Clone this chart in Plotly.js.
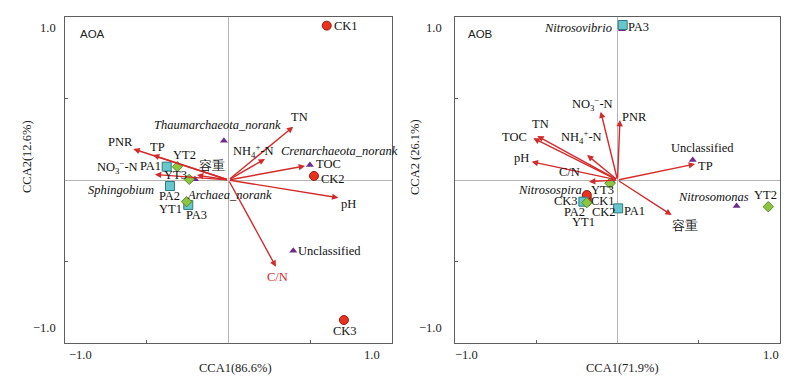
<!DOCTYPE html>
<html>
<head>
<meta charset="utf-8">
<script src="https://cdn.plot.ly/plotly-3.0.1.min.js"></script>
<style>html,body{margin:0;padding:0;background:#fff;}#chart{width:800px;height:386px;}</style>
</head>
<body>
<div id="chart"></div>
<script>
// ---------------- DATA: AOA panel ----------------
const aoaSampleNames = ['CK1','CK2','CK3','PA1','PA2','PA3','YT1','YT2','YT3'];
const aoaSampleX = [0.601, 0.523, 0.706, -0.378, -0.358, -0.246, -0.256, -0.313, -0.240];
const aoaSampleY = [0.947, 0.025, -0.859, 0.082, -0.037, -0.153, -0.133, 0.082, 0.004];
const aoaSpeciesNames = ['Thaumarchaeota_norank','Crenarchaeota_norank','Archaea_norank','Sphingobium','Unclassified'];
const aoaSpeciesX = [-0.028, 0.498, -0.205, -0.360, 0.396];
const aoaSpeciesY = [0.241, 0.092, 0.004, -0.035, -0.434];
const aoaEnvNames = ['PNR','TP','NO3-N','容重','NH4-N','TN','TOC','pH','C/N'];
const aoaEnvX = [-0.582, -0.462, -0.450, -0.193, 0.223, 0.396, 0.468, 0.672, 0.290];
const aoaEnvY = [0.190, 0.153, 0.034, 0.030, 0.129, 0.327, 0.086, -0.109, -0.532];

// ---------------- DATA: AOB panel ----------------
const aobSampleNames = ['CK1','CK2','CK3','PA1','PA2','PA3','YT1','YT2','YT3'];
const aobSampleX = [-0.189, -0.189, -0.189, 0.004, -0.210, 0.032, -0.189, 0.928, -0.046];
const aobSampleY = [-0.112, -0.133, -0.092, -0.174, -0.133, 0.951, -0.139, -0.164, -0.020];
const aobSpeciesNames = ['Nitrosovibrio','Unclassified','Nitrosomonas','Nitrosospira'];
const aobSpeciesX = [0.028, 0.463, 0.733, -0.035];
const aobSpeciesY = [0.925, 0.123, -0.160, -0.008];
const aobEnvNames = ['NO3-N','PNR','TN','TOC','NH4-N','pH','TP','C/N','容重'];
const aobEnvX = [-0.103, 0.015, -0.493, -0.518, -0.187, -0.528, 0.477, -0.175, 0.333];
const aobEnvY = [0.419, 0.368, 0.270, 0.256, 0.153, 0.112, 0.098, -0.010, -0.215];

const panelTitles = ['AOA','AOB'];
const xTitles = ['CCA1(86.6%)','CCA1(71.9%)'];
const yTitles = ['CCA2(12.6%)','CCA2 (26.1%)'];

// ---------------- STYLE / LABEL PLACEMENT (pixel offsets, screen-down positive) ----------------
const displayText = {
  'NO3-N': 'NO<sub>3</sub><sup>−</sup>-N',
  'NH4-N': 'NH<sub>4</sub><sup>+</sup>-N'
};
const italicNames = ['Thaumarchaeota_norank','Crenarchaeota_norank','Archaea_norank','Sphingobium',
                     'Nitrosovibrio','Nitrosomonas','Nitrosospira'];
const aoaSampleOff = {CK1:[19,0],CK2:[19,3],CK3:[1,11],PA1:[-16,-1],PA2:[0,10],PA3:[8,10],YT1:[-16,7],YT2:[7,-12],YT3:[-14,-4]};
const aoaSpeciesOff = {'Thaumarchaeota_norank':[-6,-16],'Crenarchaeota_norank':[30,-14],'Archaea_norank':[35,16],'Sphingobium':[-49,4],'Unclassified':[36,0]};
const aoaEnvOff = {'PNR':[-13,-7],'TP':[5,-8],'NO3-N':[-37,-7],'容重':[15,-10],'NH4-N':[-11,-8],'TN':[6,-10],'TOC':[23,-2],'pH':[10,6],'C/N':[2,10]};
const aobSampleOff = {CK1:[16,3],CK2:[17,10],CK3:[-21,6],PA1:[16,3],PA2:[-9,10],PA3:[16,2],YT1:[-3,19],YT2:[-3,-12],YT3:[-8,7]};
const aobSpeciesOff = {'Nitrosovibrio':[-44,-1],'Unclassified':[10,-12],'Nitrosomonas':[-23,-9],'Nitrosospira':[-62,9]};
const aobEnvOff = {'NO3-N':[-8,-8],'PNR':[15,-3],'TN':[3,-12],'TOC':[-19,-1],'NH4-N':[-6,-18],'pH':[-10,-4],'TP':[10,2],'C/N':[-20,-10],'容重':[13,10]};

const FONT = '"Liberation Serif", "Times New Roman", serif';
const ARROW = '#d42a2a';
const sampleStyle = {
  CK: {symbol:'circle', color:'#e8321e', line:'#9a1a10', size:9},
  PA: {symbol:'square', color:'#66c8cc', line:'#2f7a80', size:9},
  YT: {symbol:'diamond', color:'#8cc63f', line:'#5a8a2a', size:8}
};

const traces = [];
const annotations = [];

function addPanel(xa, ya, sN, sX, sY, spN, spX, spY, eN, eX, eY, sOff, spOff, eOff, redLabels) {
  // species (triangles)
  traces.push({type:'scatter', mode:'markers', x:spX, y:spY, xaxis:xa, yaxis:ya, hoverinfo:'skip',
    marker:{symbol:'triangle-up', size:7, color:'#6b2c8c', line:{width:0}}, showlegend:false});
  // samples
  ['CK','PA','YT'].forEach(g => {
    const xs=[], ys=[];
    sN.forEach((n,i)=>{ if(n.startsWith(g)){ xs.push(sX[i]); ys.push(sY[i]); } });
    const st = sampleStyle[g];
    traces.push({type:'scatter', mode:'markers', x:xs, y:ys, xaxis:xa, yaxis:ya, hoverinfo:'skip', showlegend:false,
      marker:{symbol:st.symbol, size:st.size, color:st.color, line:{width:1, color:st.line}}});
  });
  const xr = xa, yr = ya;
  // arrows
  eN.forEach((n,i)=>{
    annotations.push({xref:xr, yref:yr, axref:xr, ayref:yr, x:eX[i], y:eY[i], ax:0, ay:0,
      showarrow:true, arrowhead:2, arrowsize:0.9, arrowwidth:1.4, arrowcolor:ARROW, standoff:0, startstandoff:0, text:''});
  });
  function label(n, x, y, off, color) {
    let t = displayText[n] || n;
    if (italicNames.includes(n)) t = '<i>' + t + '</i>';
    annotations.push({xref:xr, yref:yr, x:x, y:y, text:t, showarrow:false, xanchor:'center', yanchor:'middle',
      xshift:off[0], yshift:-off[1], font:{family:FONT, size:12.5, color:color||'#111'}});
  }
  sN.forEach((n,i)=>label(n, sX[i], sY[i], sOff[n]));
  spN.forEach((n,i)=>label(n, spX[i], spY[i], spOff[n]));
  eN.forEach((n,i)=>label(n, eX[i], eY[i], eOff[n], redLabels.includes(n) ? ARROW : '#111'));
}

addPanel('x','y', aoaSampleNames, aoaSampleX, aoaSampleY, aoaSpeciesNames, aoaSpeciesX, aoaSpeciesY,
         aoaEnvNames, aoaEnvX, aoaEnvY, aoaSampleOff, aoaSpeciesOff, aoaEnvOff, ['C/N']);
addPanel('x2','y2', aobSampleNames, aobSampleX, aobSampleY, aobSpeciesNames, aobSpeciesX, aobSpeciesY,
         aobEnvNames, aobEnvX, aobEnvY, aobSampleOff, aobSpeciesOff, aobEnvOff, []);

// paper-positioned texts (pixel -> paper)
const W = 800, H = 386;
function paperText(px, py, text, opts) {
  annotations.push(Object.assign({xref:'paper', yref:'paper', x:px/W, y:1-py/H, text:text, showarrow:false,
    xanchor:'center', yanchor:'middle', font:{family:FONT, size:12.5, color:'#222'}}, opts||{}));
}
// panel titles
paperText(78, 34, panelTitles[0], {xanchor:'left', font:{family:'"Liberation Sans", Arial, sans-serif', size:11.5, color:'#222'}});
paperText(466, 34, panelTitles[1], {xanchor:'left', font:{family:'"Liberation Sans", Arial, sans-serif', size:11.5, color:'#222'}});
// tick labels
paperText(67, 355, '−1.0', {xanchor:'left'});
paperText(382, 355, '1.0', {xanchor:'right'});
paperText(58, 28, '1.0', {xanchor:'right'});
paperText(58, 328, '−1.0', {xanchor:'right'});
paperText(453, 355, '−1.0', {xanchor:'left'});
paperText(781, 355, '1.0', {xanchor:'right'});
paperText(444, 28, '1.0', {xanchor:'right'});
paperText(444, 328, '−1.0', {xanchor:'right'});
// axis titles
paperText(235, 368, xTitles[0]);
paperText(622, 368, xTitles[1]);
paperText(27, 157, yTitles[0], {textangle:-90});
paperText(415, 157, yTitles[1], {textangle:-90});

function axis(domain, anchor) {
  return {domain:domain, anchor:anchor, range:[-1,1], showgrid:false, zeroline:true, zerolinecolor:'#b5b5b5', zerolinewidth:1,
    showline:true, mirror:true, linecolor:'#5e5e5e', linewidth:1, ticks:'inside', ticklen:3, tickcolor:'#5e5e5e',
    tickvals:[-0.5,0.5], showticklabels:false, fixedrange:true};
}
const yDom = [1-343/H, 1-17/H];
const layout = {
  width:W, height:H, margin:{l:0,r:0,t:0,b:0}, paper_bgcolor:'#fff', plot_bgcolor:'#fff', showlegend:false,
  xaxis: axis([65/W, 392/W], 'y'),
  yaxis: axis(yDom, 'x'),
  xaxis2: axis([455/W, 780/W], 'y2'),
  yaxis2: axis(yDom, 'x2'),
  annotations: annotations
};
Plotly.newPlot('chart', traces, layout, {staticPlot:true, displayModeBar:false});
</script>
</body>
</html>
